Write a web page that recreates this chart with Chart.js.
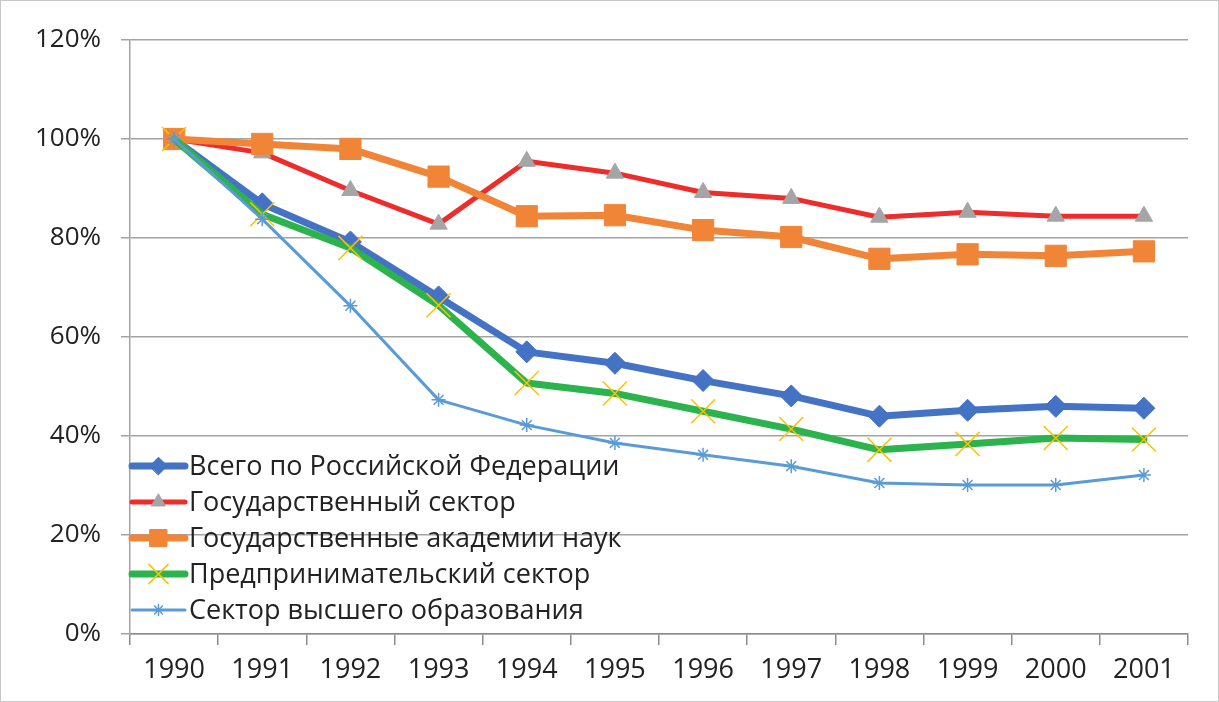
<!DOCTYPE html>
<html>
<head>
<meta charset="utf-8">
<script src="https://cdn.jsdelivr.net/npm/chart.js@4/dist/chart.umd.min.js"></script>
<style>
  html, body { margin: 0; padding: 0; background: #fff; }
  #wrap { width: 1219px; height: 702px; }
</style>
</head>
<body>
<div id="wrap"><canvas id="chart" width="1219" height="702"></canvas></div>
<script>
// values, percent of 1990
const years = ['1990', '1991', '1992', '1993', '1994', '1995', '1996', '1997', '1998', '1999', '2000', '2001'];
const totalRF    = [100, 86.9, 79.2, 68.1, 57.0, 54.7, 51.2, 48.1, 44.0, 45.2, 46.0, 45.6];
const stateSect  = [100, 97.2, 89.6, 82.8, 95.5, 93.1, 89.2, 88.0, 84.2, 85.2, 84.4, 84.4];
const academies  = [100, 99.0, 98.0, 92.4, 84.4, 84.6, 81.6, 80.2, 75.8, 76.7, 76.4, 77.3];
const business   = [100, 84.8, 78.0, 66.4, 50.7, 48.6, 45.0, 41.4, 37.2, 38.4, 39.6, 39.3];
const higherEdu  = [100, 83.8, 66.3, 47.3, 42.2, 38.6, 36.2, 33.9, 30.5, 30.1, 30.1, 32.1];
const yTicks = [0, 20, 40, 60, 80, 100, 120];

const FONT = '"Open Sans", "Liberation Sans", sans-serif';
const TEXT = '#222222';

// legend drawn inside the plot area, lower left
const insideLegend = {
    id: 'insideLegend',
    afterDatasetsDraw(chart) {
        const ctx = chart.ctx;
        const area = chart.chartArea;
        const x0 = area.left - 1;
        const x1 = area.left + 58;
        let y = 466;
        ctx.save();
        ctx.font = '27px ' + FONT;
        ctx.textBaseline = 'middle';
        ctx.fillStyle = TEXT;
        chart.data.datasets.forEach(ds => {
            ctx.beginPath();
            ctx.strokeStyle = ds.borderColor;
            ctx.lineWidth = ds.borderWidth;
            ctx.lineCap = 'round';
            ctx.moveTo(x0 + 3, y);
            ctx.lineTo(x1 - 3, y);
            ctx.stroke();
            ctx.fillStyle = ds.pointBackgroundColor;
            ctx.strokeStyle = ds.pointBorderColor;
            ctx.lineWidth = ds.pointBorderWidth;
            Chart.helpers.drawPoint(ctx, {
                pointStyle: ds.pointStyle,
                radius: ds.pointRadius * 0.8,
                rotation: 0,
                borderWidth: ds.pointBorderWidth
            }, (x0 + x1) / 2, y);
            ctx.fillStyle = TEXT;
            ctx.fillText(ds.label, x1 + 1, y + 1);
            y += 36;
        });
        ctx.restore();
    }
};

const frame = {
    id: 'frame',
    beforeDraw(chart) {
        const ctx = chart.ctx;
        ctx.save();
        ctx.fillStyle = '#fff';
        ctx.fillRect(0, 0, chart.width, chart.height);
        ctx.strokeStyle = '#c8c8c8';
        ctx.lineWidth = 1;
        ctx.strokeRect(0.5, 0.5, chart.width - 1, chart.height - 1);
        ctx.restore();
    }
};

new Chart(document.getElementById('chart'), {
    type: 'line',
    data: {
        labels: years,
        datasets: [
            {
                label: 'Всего по Российской Федерации',
                data: totalRF,
                borderColor: '#4472C4',
                borderWidth: 7,
                pointStyle: 'rectRot',
                pointRadius: 11,
                pointBackgroundColor: '#4472C4',
                pointBorderColor: '#4472C4',
                pointBorderWidth: 1,
                order: 5
            },
            {
                label: 'Государственный сектор',
                data: stateSect,
                borderColor: '#EE2C2C',
                borderWidth: 5,
                pointStyle: 'triangle',
                pointRadius: 10,
                pointBackgroundColor: '#A5A5A5',
                pointBorderColor: '#A5A5A5',
                pointBorderWidth: 1,
                order: 4
            },
            {
                label: 'Государственные академии наук',
                data: academies,
                borderColor: '#F08538',
                borderWidth: 7,
                pointStyle: 'rect',
                pointRadius: 15,
                pointBackgroundColor: '#F08538',
                pointBorderColor: '#F08538',
                pointBorderWidth: 1,
                order: 3
            },
            {
                label: 'Предпринимательский сектор',
                data: business,
                borderColor: '#2CB34D',
                borderWidth: 7,
                pointStyle: 'crossRot',
                pointRadius: 17,
                pointBackgroundColor: '#FFC000',
                pointBorderColor: '#FFC000',
                pointBorderWidth: 1.5,
                order: 2
            },
            {
                label: 'Сектор высшего образования',
                data: higherEdu,
                borderColor: '#5B9BD5',
                borderWidth: 3,
                pointStyle: 'star',
                pointRadius: 7,
                pointBackgroundColor: '#5B9BD5',
                pointBorderColor: '#5B9BD5',
                pointBorderWidth: 1.5,
                order: 1
            }
        ]
    },
    options: {
        responsive: false,
        animation: false,
        layout: { padding: { left: 0, right: 31, top: 40, bottom: 0 } },
        plugins: {
            legend: { display: false },
            tooltip: { enabled: false }
        },
        elements: {
            line: { tension: 0, borderJoinStyle: 'round', borderCapStyle: 'round' },
            point: { hoverRadius: 0 }
        },
        scales: {
            x: {
                offset: true,
                grid: {
                    offset: true,
                    drawOnChartArea: false,
                    drawTicks: true,
                    tickLength: 11,
                    color: '#8c8c8c',
                    lineWidth: 1.5
                },
                border: { display: true, color: '#8c8c8c', width: 1.5 },
                ticks: {
                    color: TEXT,
                    font: { family: FONT, size: 27 },
                    padding: 9,
                    maxRotation: 0,
                    autoSkip: false
                },
                afterFit(scale) { scale.height = 68; }
            },
            y: {
                min: 0,
                max: 120,
                afterBuildTicks(scale) { scale.ticks = yTicks.map(v => ({ value: v })); },
                grid: {
                    drawTicks: true,
                    tickLength: 9,
                    color: '#a3a3a3',
                    lineWidth: 1.5
                },
                border: { display: true, color: '#a3a3a3', width: 1.5 },
                ticks: {
                    color: TEXT,
                    font: { family: FONT, size: 26 },
                    padding: 20,
                    callback: v => v + '%'
                },
                afterFit(scale) { scale.width = 130; }
            }
        }
    },
    plugins: [frame, insideLegend]
});
</script>
</body>
</html>
